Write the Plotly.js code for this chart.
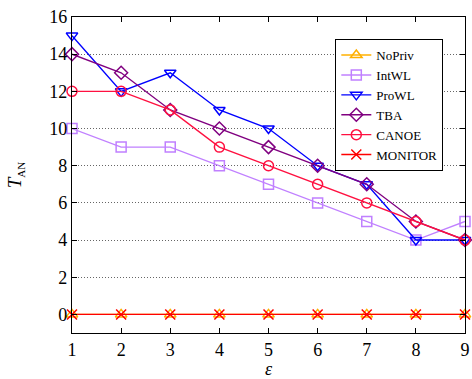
<!DOCTYPE html>
<html>
<head>
<meta charset="utf-8">
<script src="https://cdn.plot.ly/plotly-3.0.1.min.js"></script>
<style>
  html, body { margin: 0; padding: 0; background: #fff; }
  #chart { width: 472px; height: 379px; }
</style>
</head>
<body>
<div id="chart"></div>
<script>
// Epsilon values along the x axis
const epsilon = [1, 2, 3, 4, 5, 6, 7, 8, 9];

// T_AN per method
const noPriv  = [0, 0, 0, 0, 0, 0, 0, 0, 0];
const intWL   = [10, 9, 9, 8, 7, 6, 5, 4, 5];
const proWL   = [15, 12, 13, 11, 10, 8, 7, 4, 4];
const tba     = [14, 13, 11, 10, 9, 8, 7, 5, 4];
const canoe   = [12, 12, 11, 9, 8, 7, 6, 5, 4];
const monitor = [0, 0, 0, 0, 0, 0, 0, 0, 0];

const yTicks = [0, 2, 4, 6, 8, 10, 12, 14, 16];

function series(name, y, color, symbol, size) {
  return {
    x: epsilon, y: y, name: name,
    type: 'scatter', mode: 'lines+markers',
    cliponaxis: false,
    line: { color: color, width: 1.4 },
    marker: { symbol: symbol, size: size, color: color, line: { color: color, width: 1.5 } }
  };
}

const traces = [
  series('NoPriv', noPriv, '#FFB000', 'triangle-up-open', 10),
  series('IntWL', intWL, '#C080FF', 'square-open', 10),
  series('ProWL', proWL, '#0000FF', 'triangle-down-open', 10),
  series('TBA', tba, '#800080', 'diamond-open', 10),
  series('CANOE', canoe, '#FF1040', 'circle-open', 10),
  series('MONITOR', monitor, '#FF0000', 'x-thin-open', 10)
];

const serif = 'Liberation Serif, Times New Roman, serif';

const layout = {
  width: 472, height: 379,
  margin: { l: 72, r: 7, t: 17, b: 46 },
  paper_bgcolor: '#fff', plot_bgcolor: '#fff',
  font: { family: serif, color: '#000', size: 18 },
  showlegend: true,
  legend: {
    x: 0.67, y: 0.93, xanchor: 'left', yanchor: 'top',
    bgcolor: '#fff', bordercolor: '#000', borderwidth: 1,
    font: { family: serif, size: 13, color: '#000' },
    itemwidth: 30
  },
  xaxis: {
    range: [1, 9],
    tickvals: epsilon,
    ticks: 'inside', ticklen: 5, tickcolor: '#000',
    showline: true, linecolor: '#000', linewidth: 1.2, mirror: 'ticks',
    showgrid: false, zeroline: false,
    tickfont: { family: serif, size: 18 },
    title: { text: '<i>ε</i>', font: { family: serif, size: 18 }, standoff: 4 }
  },
  yaxis: {
    range: [-1, 16],
    tickvals: yTicks,
    ticks: 'inside', ticklen: 5, tickcolor: '#000',
    showline: true, linecolor: '#000', linewidth: 1.2, mirror: 'ticks',
    showgrid: true, gridcolor: '#666', griddash: '1px,2px', gridwidth: 1,
    zeroline: false,
    tickfont: { family: serif, size: 18 },
    title: {
      text: '<i>T</i><sub><span style="font-size:11px">AN</span></sub>',
      font: { family: serif, size: 19 }, standoff: 22
    }
  }
};

Plotly.newPlot('chart', traces, layout, { displayModeBar: false, staticPlot: true });
</script>
</body>
</html>
